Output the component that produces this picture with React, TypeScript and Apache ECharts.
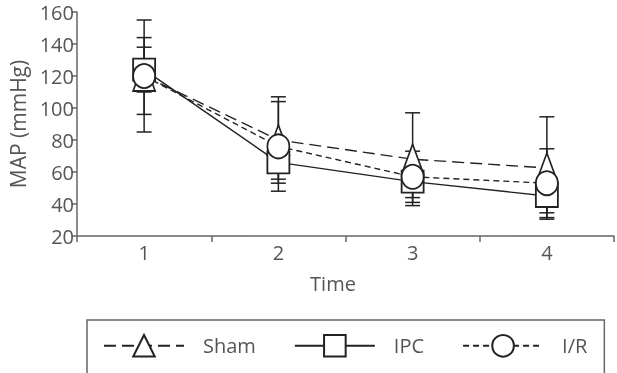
import React, { useEffect, useRef } from "react";
import * as echarts from "echarts";

// Time points on the x axis
const categories = ["1", "2", "3", "4"];

// Mean arterial pressure (mmHg), mean and SD per group
const shamMean = [120, 80, 68, 62.5];
const shamSD = [35, 27, 29, 32];
const ipcMean = [124, 66, 54, 45];
const ipcSD = [14, 10.5, 10, 10.5];
const irMean = [120, 76, 57, 53];
const irSD = [24, 28, 16, 21.5];

// y axis range and step
const yMin = 20;
const yMax = 160;
const yStep = 20;

const FONT = "'Open Sans', 'Liberation Sans', sans-serif";
const FS = 20;
const TEXT = "#555";
const AXIS = "#666";
const INK = "#222";

function errorData(mean: number[], sd: number[]) {
  return mean.map((m, i) => [i, m - sd[i], m + sd[i]]);
}

// Vertical mean ± SD bars with caps
function errorSeries(name: string, mean: number[], sd: number[]) {
  return {
    type: "custom",
    name,
    z: 1,
    encode: { x: 0, y: [1, 2] },
    data: errorData(mean, sd),
    renderItem: (params: any, api: any) => {
      const i = api.value(0);
      const lo = api.coord([i, api.value(1)]);
      const hi = api.coord([i, api.value(2)]);
      const half = 7.5;
      const style = { stroke: INK, lineWidth: 1.5 };
      return {
        type: "group",
        children: [
          { type: "line", shape: { x1: lo[0], y1: lo[1], x2: hi[0], y2: hi[1] }, style },
          { type: "line", shape: { x1: lo[0] - half, y1: lo[1], x2: lo[0] + half, y2: lo[1] }, style },
          { type: "line", shape: { x1: hi[0] - half, y1: hi[1], x2: hi[0] + half, y2: hi[1] }, style },
        ],
      };
    },
  };
}

function lineSeries(name: string, data: number[], symbol: string, symbolSize: any, dash: any) {
  return {
    type: "line",
    name,
    z: 2,
    data,
    symbol,
    symbolSize,
    showAllSymbol: true,
    lineStyle: { color: INK, width: 1.4, type: dash },
    itemStyle: { color: "#fff", borderColor: INK, borderWidth: 1.8 },
    emphasis: { disabled: true },
  };
}

export default function App() {
  const ref = useRef<HTMLDivElement>(null);

  useEffect(() => {
    if (!ref.current) return;
    const chart = echarts.init(ref.current, undefined, { renderer: "svg" });
    chart.setOption({
      animation: false,
      textStyle: { fontFamily: FONT },
      grid: {
        left: 77,
        right: 3,
        top: 12,
        bottom: 137,
        containLabel: false,
        outerBoundsMode: "none",
      },
      xAxis: {
        type: "category",
        data: categories,
        boundaryGap: true,
        axisLine: { lineStyle: { color: AXIS, width: 1.5 } },
        axisTick: { show: true, length: 6, lineStyle: { color: AXIS, width: 1.5 } },
        axisLabel: { color: TEXT, fontSize: FS, fontFamily: FONT, margin: 6 },
        splitLine: { show: false },
      },
      yAxis: {
        type: "value",
        min: yMin,
        max: yMax,
        interval: yStep,
        name: "MAP (mmHg)",
        nameLocation: "middle",
        nameGap: 49,
        nameTextStyle: { color: TEXT, fontSize: 21, fontFamily: FONT },
        axisLine: { show: true, lineStyle: { color: AXIS, width: 1.5 } },
        axisTick: { show: true, length: 5, lineStyle: { color: AXIS, width: 1.5 } },
        axisLabel: { color: TEXT, fontSize: FS, fontFamily: FONT, margin: 3 },
        splitLine: { show: false },
      },
      legend: {
        data: ["Sham", "IPC", "I/R"],
        left: 87,
        top: 320,
        orient: "horizontal",
        itemWidth: 80,
        itemHeight: 27,
        itemGap: 38,
        selectedMode: false,
        borderColor: AXIS,
        borderWidth: 1.5,
        padding: [14, 17, 30, 16],
        textStyle: { color: TEXT, fontSize: FS, fontFamily: FONT, padding: [0, 0, 0, 14] },
      },
      graphic: [
        {
          type: "text",
          x: 333,
          y: 283,
          style: {
            text: "Time",
            fill: TEXT,
            fontSize: FS,
            fontFamily: FONT,
            align: "center",
            verticalAlign: "middle",
          },
        },
      ],
      series: [
        errorSeries("Sham SD", shamMean, shamSD),
        errorSeries("IPC SD", ipcMean, ipcSD),
        errorSeries("I/R SD", irMean, irSD),
        lineSeries("Sham", shamMean, "triangle", [22, 30], [12, 6]),
        lineSeries("IPC", ipcMean, "rect", [22, 22], "solid"),
        lineSeries("I/R", irMean, "circle", [22, 24], [6, 4]),
      ],
    });
    return () => chart.dispose();
  }, []);

  return (
    <div
      ref={ref}
      style={{ position: "fixed", left: 0, top: 0, width: 617, height: 373 }}
    />
  );
}
